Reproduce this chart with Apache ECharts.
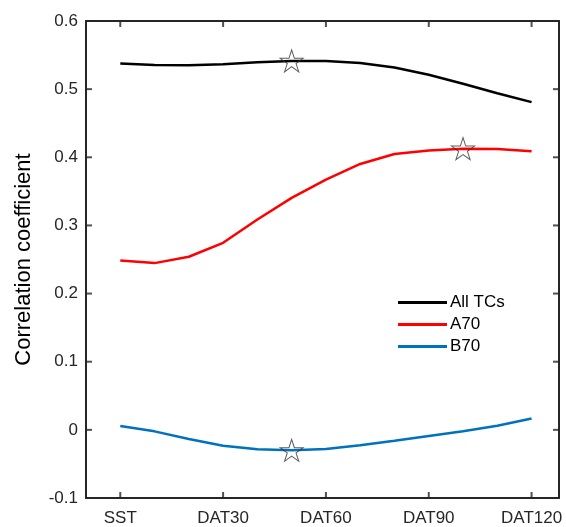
<!DOCTYPE html>
<html lang="en">
<head>
  <meta charset="UTF-8">
  <title>Correlation coefficient</title>
  <style>
    body { margin: 0; background: #fff; }
  </style>
</head>
<body>
  <div id="main" style="width: 566px; height: 527px;"></div>
  <script src="https://cdn.jsdelivr.net/npm/echarts@6.0.0/dist/echarts.min.js"></script>
  <script type="text/javascript">
    // x positions: SST, DAT10 ... DAT120 (index 0..12)
    const steps = [0, 1, 2, 3, 4, 5, 6, 7, 8, 9, 10, 11, 12];
    const tickPos = [0, 3, 6, 9, 12];
    const tickLabels = ['SST', 'DAT30', 'DAT60', 'DAT90', 'DAT120'];
    const yTicks = [-0.1, 0, 0.1, 0.2, 0.3, 0.4, 0.5, 0.6];

    const allTCs = [0.5375, 0.5356, 0.5351, 0.5366, 0.5395, 0.5414, 0.5414, 0.5385, 0.5317, 0.521, 0.508, 0.494, 0.481];
    const a70 = [0.2486, 0.2447, 0.254, 0.2745, 0.3086, 0.3404, 0.3672, 0.3902, 0.4048, 0.4101, 0.4126, 0.4121, 0.4087];
    const b70 = [0.0056, -0.0022, -0.0135, -0.0233, -0.0286, -0.030, -0.0281, -0.0227, -0.016, -0.009, -0.002, 0.006, 0.0168];

    const names = ['All TCs', 'A70', 'B70'];
    const colors = ['#000000', '#ff0000', '#0072bd'];
    // index of the starred point on each curve
    const starIdx = [5, 10, 5];

    const starPath = 'path://M50 0 L61.2 34.5 L97.6 34.5 L68.2 55.9 L79.4 90.5 L50 69.1 L20.6 90.5 L31.8 55.9 L2.4 34.5 L38.8 34.5 Z';

    var myChart = echarts.init(document.getElementById('main'));

    const seriesData = [allTCs, a70, b70];
    let series = [];
    seriesData.forEach((vals, k) => {
      series.push({
        name: names[k],
        type: 'line',
        data: steps.map((s, i) => [s, vals[i]]),
        symbol: 'none',
        lineStyle: { color: colors[k], width: 2.5 },
        itemStyle: { color: colors[k] },
        z: 2
      });
    });

    series.push({
      type: 'scatter',
      symbol: starPath,
      symbolSize: [23, 22],
      data: seriesData.map((vals, k) => [steps[starIdx[k]], vals[starIdx[k]]]),
      itemStyle: { color: 'rgba(255,255,255,0)', borderColor: '#333', borderWidth: 1 },
      z: 5,
      silent: true
    });

    // inward tick marks on the four sides of the box, as small rect symbols
    const tickLen = 6;
    const tickStyle = { color: '#262626' };
    series.push({
      type: 'scatter', silent: true, clip: false, z: 6,
      symbol: 'rect', symbolSize: [2, tickLen], symbolOffset: [0, -tickLen / 2],
      itemStyle: tickStyle,
      data: tickPos.map(v => [v, -0.1])
    });
    series.push({
      type: 'scatter', silent: true, clip: false, z: 6,
      symbol: 'rect', symbolSize: [2, tickLen], symbolOffset: [0, tickLen / 2],
      itemStyle: tickStyle,
      data: tickPos.map(v => [v, 0.6])
    });
    series.push({
      type: 'scatter', silent: true, clip: false, z: 6,
      symbol: 'rect', symbolSize: [tickLen, 2], symbolOffset: [tickLen / 2, 0],
      itemStyle: tickStyle,
      data: yTicks.map(v => [-1, v])
    });
    series.push({
      type: 'scatter', silent: true, clip: false, z: 6,
      symbol: 'rect', symbolSize: [tickLen, 2], symbolOffset: [-tickLen / 2, 0],
      itemStyle: tickStyle,
      data: yTicks.map(v => [12.8, v])
    });

    const axisFont = { color: '#262626', fontSize: 17, fontFamily: 'Liberation Sans' };
    const lineSt = { show: true, onZero: false, lineStyle: { color: '#262626', width: 2 } };

    var option = {
      animation: false,
      grid: { left: 86, right: 7, top: 21, bottom: 28, containLabel: false },
      legend: {
        orient: 'vertical',
        left: 393,
        top: 289,
        itemWidth: 49,
        itemHeight: 3,
        itemGap: 5,
        icon: 'rect',
        data: names,
        textStyle: { color: '#000', fontSize: 17, fontFamily: 'Liberation Sans', padding: [0, 0, 0, -2] }
      },
      xAxis: [{
        type: 'value',
        min: -1,
        max: 12.8,
        axisLine: lineSt,
        splitLine: { show: false },
        axisTick: { show: false },
        axisLabel: {
          ...axisFont,
          margin: 12,
          customValues: tickPos,
          formatter: v => tickLabels[tickPos.indexOf(v)]
        }
      }, {
        type: 'value',
        position: 'top',
        min: -1,
        max: 12.8,
        axisLine: lineSt,
        splitLine: { show: false },
        axisTick: { show: false },
        axisLabel: { show: false }
      }],
      yAxis: [{
        type: 'value',
        min: -0.1,
        max: 0.6,
        interval: 0.1,
        name: 'Correlation coefficient',
        nameLocation: 'middle',
        nameGap: 51,
        nameTextStyle: { color: '#000', fontSize: 22, fontFamily: 'Liberation Sans' },
        axisLine: lineSt,
        splitLine: { show: false },
        axisTick: { show: false },
        axisLabel: {
          ...axisFont,
          margin: 8,
          formatter: v => (Math.abs(v) < 1e-9 ? '0' : String(+v.toFixed(1)))
        }
      }, {
        type: 'value',
        position: 'right',
        min: -0.1,
        max: 0.6,
        interval: 0.1,
        axisLine: lineSt,
        splitLine: { show: false },
        axisTick: { show: false },
        axisLabel: { show: false }
      }],
      series: series
    };

    myChart.setOption(option);
  </script>
</body>
</html>
